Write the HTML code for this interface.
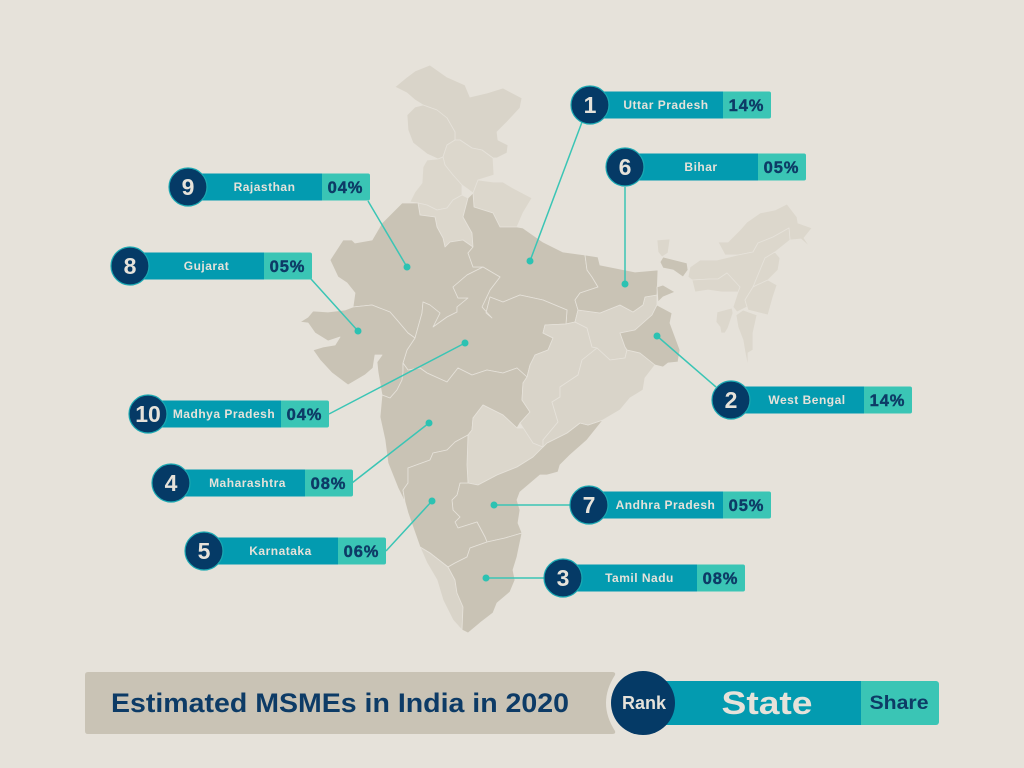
<!DOCTYPE html>
<html lang="en">
<head>
<meta charset="utf-8">
<title>Estimated MSMEs in India in 2020</title>
<style>
html,body{margin:0;padding:0;background:#e6e2da}
svg{display:block}
text{font-family:"Liberation Sans",sans-serif}
.dark{fill:#c9c3b5}
.mid{fill:#d9d4c9}
.lite{fill:#dcd7cc}
#map polygon{stroke:#e6e2da;stroke-width:.8;stroke-linejoin:round}
</style>
</head>
<body>
<svg id="chart" width="1024" height="768" viewBox="0 0 1024 768" xmlns="http://www.w3.org/2000/svg">
<rect width="1024" height="768" fill="#e6e2da"/>
<g id="map">
<polygon class="mid" points="395,87 407,77 415,71 430,65 447,77 465,85 470,97 487,93 503,88 522,98 520,108 507,122 497,132 498,140 508,145 507,153 497,158 493,158 482,150 472,148 460,140 455,140 455,132 447,118 437,110 423,105 415,100 407,93"/>
<polygon class="mid" points="407,115 415,107 423,105 437,110 447,118 455,132 455,140 447,145 443,157 438,159 427,154 413,143 408,130"/>
<polygon class="lite" points="443,157 447,145 455,140 460,140 472,148 482,150 493,158 494,175 478,180 473,193 462,185 453,175 445,165"/>
<polygon class="lite" points="438,159 443,157 445,165 453,175 462,185 462,195 453,200 447,208 437,210 427,205 418,203 410,202 415,192 422,183 423,167 427,160"/>
<polygon class="lite" points="418,203 427,205 437,210 447,208 453,200 462,195 468,198 463,217 472,233 473,247 463,240 450,242 445,247 443,238 437,227 435,217 420,215"/>
<polygon class="lite" points="473,193 478,180 493,182 503,182 513,188 532,198 523,213 517,227 500,227 493,213 474,207"/>
<polygon class="dark" points="330,260 343,240 352,240 355,243 372,240 382,223 402,203 418,203 420,215 435,217 437,227 443,238 445,247 450,242 463,240 473,247 468,253 473,267 483,267 467,275 453,287 458,298 468,298 457,307 457,312 447,317 433,327 440,313 430,305 423,302 422,313 415,338 408,333 397,320 390,312 372,305 353,307 355,293 347,283 338,277"/>
<polygon class="dark" points="463,217 468,198 473,193 474,207 493,213 500,227 517,227 523,228 543,242 563,252 585,255 587,270 592,277 598,287 580,293 575,300 578,310 575,322 566,324 567,310 543,300 520,295 503,302 490,297 486,313 492,318 482,307 490,290 500,277 483,267 473,267 468,253 473,247 472,233"/>
<polygon class="dark" points="415,338 422,313 423,302 430,305 440,313 433,327 447,317 457,312 457,307 468,298 458,298 453,287 467,275 483,267 500,277 490,290 482,307 492,318 486,313 490,297 503,302 520,295 543,300 567,310 566,324 545,325 543,333 553,338 548,350 535,355 530,365 527,377 517,368 503,373 487,370 472,375 458,368 447,382 427,373 420,368 408,370 403,363 407,350"/>
<polygon class="dark" points="300,322 308,317 313,311 328,312 345,310 353,307 372,305 390,312 397,320 408,333 415,338 407,350 403,363 403,372 402,380 397,390 390,398 382,395 378,372 377,362 382,355 375,355 373,368 365,375 348,385 332,373 320,360 313,350 323,347 335,345 340,337 328,341 315,333 308,323"/>
<polygon class="dark" points="403,363 408,370 420,368 427,373 447,382 458,368 472,375 487,370 503,373 517,368 527,377 523,383 522,400 530,412 520,423 517,428 503,415 483,405 473,418 472,430 468,435 455,442 447,450 433,453 430,460 408,468 408,483 403,490 405,502 398,488 388,463 385,440 380,417 382,395 390,398 397,390 402,380 403,372"/>
<polygon class="lite" points="468,435 467,465 468,483 478,485 497,475 517,467 533,457 543,447 533,443 527,428 517,428 503,415 483,405 473,418 472,430"/>
<polygon class="dark" points="543,447 547,443 567,433 580,423 588,425 603,420 587,440 570,455 560,465 558,472 547,475 540,475 520,492 517,500 520,510 518,523 522,533 505,538 487,542 485,537 477,522 458,528 455,522 460,517 453,510 452,500 457,495 460,483 468,483 478,485 497,475 517,467 533,457"/>
<polygon class="dark" points="468,435 467,465 468,483 460,483 457,495 452,500 453,510 460,517 455,522 458,528 477,522 485,537 487,542 470,548 467,557 455,563 448,567 430,553 420,547 408,513 405,502 403,490 408,483 408,468 430,460 433,453 447,450 455,442"/>
<polygon class="mid" points="420,547 430,553 448,567 455,580 457,593 463,607 462,630 453,620 443,600 437,580 427,563"/>
<polygon class="dark" points="448,567 455,563 467,557 470,548 487,542 505,538 522,533 517,557 513,570 515,580 510,592 497,603 493,613 480,623 468,633 462,630 463,607 457,593 455,580"/>
<polygon class="mid" points="545,325 566,324 575,322 587,328 592,347 597,348 582,360 578,375 560,387 560,397 552,402 558,422 543,440 543,447 533,443 520,423 530,412 522,400 523,383 527,377 530,365 535,355 548,350 553,338 543,333"/>
<polygon class="mid" points="575,322 578,310 600,313 620,305 633,312 643,305 645,297 657,295 657,305 652,315 635,330 620,333 625,347 627,350 625,358 610,360 597,348 592,347 587,328"/>
<polygon class="mid" points="597,348 610,360 625,358 627,350 640,353 655,365 645,378 643,390 630,398 620,410 603,420 588,425 580,423 567,433 547,443 543,447 543,440 558,422 552,402 560,397 560,387 578,375 582,360"/>
<polygon class="dark" points="585,255 598,257 600,265 615,268 635,272 658,270 657,295 645,297 643,305 633,312 620,305 600,313 578,310 575,300 580,293 598,287 592,277 587,270"/>
<polygon class="dark" points="657,305 672,313 670,323 680,350 678,362 668,363 663,367 655,365 640,353 627,350 625,347 620,333 635,330 652,315"/>
<polygon class="dark" points="663,257 687,263 688,270 683,277 673,270 663,268 660,262"/>
<polygon class="dark" points="657,287 663,285 675,292 663,297 658,302"/>
<polygon class="lite" points="657,240 670,239 668,253 662,257 658,252"/>
<polygon class="lite" points="718,242 728,242 740,230 747,222 760,213 775,210 787,204 797,217 798,223 812,228 804,238 810,247 801,239 790,240 789,228 773,237 758,243 753,252 738,255 725,255"/>
<polygon class="lite" points="690,267 700,260 717,260 738,255 753,252 758,243 773,237 789,228 790,240 775,252 765,258 760,270 753,287 745,300 747,307 737,312 733,307 738,292 740,287 727,273 718,279 710,279 692,280 688,277"/>
<polygon class="lite" points="692,280 710,279 718,279 727,273 740,287 738,292 722,292 708,290 695,292"/>
<polygon class="lite" points="753,287 760,270 765,258 775,252 780,258 778,270 768,280 757,285"/>
<polygon class="lite" points="753,287 757,285 768,280 777,285 773,297 768,315 748,310 745,300"/>
<polygon class="lite" points="736,315 743,310 757,315 753,333 753,350 748,353 748,367 745,352 743,340 738,327"/>
<polygon class="lite" points="717,312 732,308 733,313 728,328 725,333 721,333 720,327 716,322"/>
</g>
<g id="leaders"></g>
<g id="callouts"></g>
<g>
<path d="M88 672 H612 Q616 672 615 675 Q597 703 615 731 Q616 734 612 734 H88 Q85 734 85 731 V675 Q85 672 88 672 Z" fill="#c9c3b5"/>
<text x="111" y="712" font-size="27" font-weight="700" fill="#0d3b66" textLength="458" lengthAdjust="spacingAndGlyphs">Estimated MSMEs in India in 2020</text>
</g>
<g>
<rect x="800" y="681" width="139" height="44" rx="3" fill="#3ac5b5"/>
<rect x="650" y="681" width="211" height="44" fill="#039bb0"/>
<circle cx="643" cy="703" r="32" fill="#053a66"/>
<text x="644" y="709" font-size="18" font-weight="700" fill="#e6e2da" text-anchor="middle">Rank</text>
<text x="767" y="714" font-size="32" font-weight="700" fill="#e6e2da" text-anchor="middle" textLength="91" lengthAdjust="spacingAndGlyphs">State</text>
<text x="899" y="709" font-size="19" font-weight="700" fill="#0d3b66" text-anchor="middle" textLength="59" lengthAdjust="spacingAndGlyphs">Share</text>
</g>
</svg>
<script>
const ranks = [1, 2, 3, 4, 5, 6, 7, 8, 9, 10];
const states = ["Uttar Pradesh", "West Bengal", "Tamil Nadu", "Maharashtra", "Karnataka", "Bihar", "Andhra Pradesh", "Gujarat", "Rajasthan", "Madhya Pradesh"];
const shares = [14, 14, 8, 8, 6, 5, 5, 5, 4, 4];

/* Placement of each callout on the map (layout, not data), in rank order:
   [circle x, circle y, share-box x, pin x, pin y, leader start x, leader start y] */
const placement = [
  [590, 105, 723, 530, 261, 582, 122],
  [731, 400, 864, 657, 336, 716, 387],
  [563, 578, 697, 486, 578, 544, 578],
  [171, 483, 305, 429, 423, 352, 483],
  [204, 551, 338, 432, 501, 386, 551],
  [625, 167, 758, 625, 284, 625, 187],
  [589, 505, 723, 494, 505, 570, 505],
  [130, 266, 264, 358, 331, 311, 279],
  [188, 187, 322, 407, 267, 368, 201],
  [148, 414, 281, 465, 343, 329, 414]
];

const SVGNS = "http://www.w3.org/2000/svg";
const leaders = document.getElementById("leaders");
const callouts = document.getElementById("callouts");
const BAR_H = 27, SHARE_W = 48, R = 19;

function make(tag, attrs, parent) {
  const el = document.createElementNS(SVGNS, tag);
  for (const k in attrs) el.setAttribute(k, attrs[k]);
  parent.appendChild(el);
  return el;
}
function formatShare(v) {
  return String(v).padStart(2, "0") + "%";
}

ranks.forEach(function (rank, i) {
  const p = placement[i];
  const cx = p[0], cy = p[1], sx = p[2], px = p[3], py = p[4], lx = p[5], ly = p[6];
  const top = cy - BAR_H / 2;

  const line = make("line", {x1: lx, y1: ly, x2: px, y2: py, stroke: "#3ac5b5", "stroke-width": 1.5}, leaders);
  
  

  const pin = make("circle", {cx: px, cy: py, r: 3.5, fill: "#2cc2b2"}, leaders);
  
  

  const shareBox = make("rect", {x: sx - 6, y: top, width: SHARE_W + 6, height: BAR_H, rx: 2, fill: "#3ac5b5"}, callouts);
  
  

  const bar = make("rect", {x: cx, y: top, width: sx - cx, height: BAR_H, fill: "#039bb0"}, callouts);
  
  

  const circle = make("circle", {cx: cx, cy: cy, r: R, fill: "#053a66", stroke: "#1ba9b2", "stroke-width": 1.2}, callouts);
  
  

  const rankText = make("text", {x: cx, y: cy + 8, "font-size": 23, "font-weight": 700, fill: "#e6e2da", "text-anchor": "middle"}, callouts);
  rankText.textContent = rank;
  
  

  const stateText = make("text", {x: (cx + R + sx) / 2, y: cy + 4.2, "font-size": 12, "font-weight": 700, fill: "#e6e2da", "text-anchor": "middle", "letter-spacing": 0.5}, callouts);
  stateText.textContent = states[i];
  
  

  const shareText = make("text", {x: sx + 23.5, y: cy + 6, "font-size": 16.5, "font-weight": 700, fill: "#0d3b66", stroke: "#0d3b66", "stroke-width": 0.4, "text-anchor": "middle", "letter-spacing": 0.9}, callouts);
  shareText.textContent = formatShare(shares[i]);
  
  
});
</script>
</body>
</html>
